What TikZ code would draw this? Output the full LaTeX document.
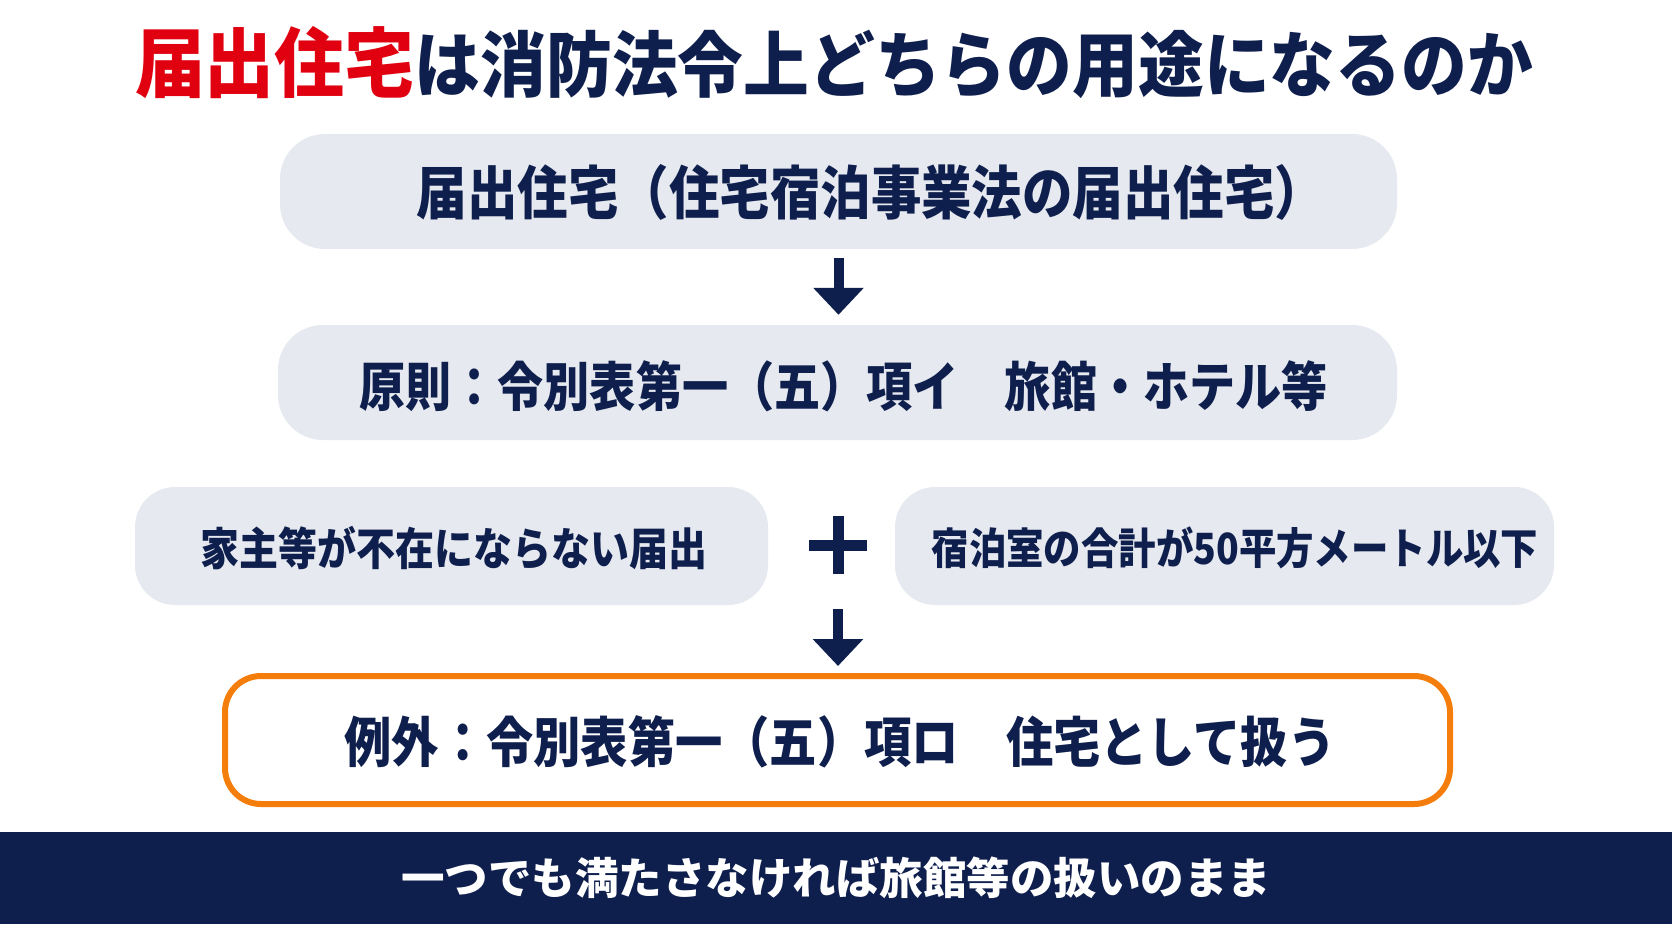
\documentclass[tikz,border=0pt]{standalone}
\usepackage{fontspec}
\usepackage{xcolor}
\usetikzlibrary{arrows.meta, positioning}
\newfontfamily\titlefont{Noto Sans CJK JP}[FakeStretch=0.92]
\newfontfamily\boxfont{Noto Sans CJK JP}[FakeStretch=0.87]
\newfontfamily\barfont{Noto Sans CJK JP}
\definecolor{navy}{HTML}{0F1F4D}
\definecolor{boxgray}{HTML}{E6E9EF}
\definecolor{alertred}{HTML}{E1000F}
\definecolor{exorange}{HTML}{F47D0C}
\tikzset{
  pill/.style={fill=boxgray, rounded corners=45pt, inner sep=0pt},
  boxtext/.style={text=navy, inner sep=0pt},
  flow/.style={navy, line width=10pt, -{Triangle[width=49pt,length=27pt]}},
}
\newcommand{\bsize}[1]{\boxfont\bfseries\fontsize{#1}{#1}\selectfont}

\begin{document}
\begin{tikzpicture}[x=1pt, y=-1pt]
\fill[white] (0,0) rectangle (1672,941);
\node[inner sep=0pt] (title) at (834,63) {\titlefont\bfseries{\color{alertred}\fontsize{76}{80}\selectfont 届出住宅}{\color{navy}\fontsize{71.5}{76}\selectfont は消防法令上どちらの用途になるのか}};

\node[pill, minimum width=1117pt, minimum height=115pt] (todoke) at (838.5,191.5) {};
\node[boxtext, font=\bsize{58}] (todoketxt) at (871,192) {届出住宅（住宅宿泊事業法の届出住宅）};

\node[pill, minimum width=1119pt, minimum height=115pt] (gensoku) at (837.5,382.5) {};
\node[boxtext, font=\bsize{53}] (gensokutxt) at (843.5,386) {原則：令別表第一（五）項イ　旅館・ホテル等};

\node[pill, rounded corners=40pt, minimum width=633pt, minimum height=118pt] (fuzai) at (451.5,546) {};
\node[boxtext, font=\bsize{44.8}] (fuzaitxt) at (454,548) {家主等が不在にならない届出};
\node[pill, rounded corners=40pt, minimum width=659pt, minimum height=118pt] (menseki) at (1224.5,546) {};
\node[boxtext, font=\bsize{43}] (mensekitxt) at (1235,548) {宿泊室の合計が50平方メートル以下};

\coordinate (plusc) at (838,545);
\draw[navy, line width=11pt] ([yshift=29pt]plusc) -- ([yshift=-29pt]plusc)
  ([xshift=-29pt]plusc) -- ([xshift=29pt]plusc);

\node[draw=exorange, line width=6pt, fill=white, rounded corners=36pt, minimum width=1225pt, minimum height=128pt] (reigai) at (837.5,740) {};
\node[boxtext, font=\bsize{54.3}] (reigaitxt) at (840,742) {例外：令別表第一（五）項ロ　住宅として扱う};

\draw[flow] ([yshift=-9pt]todoke.south) -- ([yshift=10pt]todoke.south |- gensoku.north);
\draw[flow] ([yshift=-4pt]plusc |- fuzai.south) -- ([yshift=7pt]plusc |- reigai.north);

\node[fill=navy, minimum width=1672pt, minimum height=92pt, inner sep=0pt, text=white, font=\barfont\bfseries\fontsize{43.5}{46}\selectfont] (bar) at (836,878) {一つでも満たさなければ旅館等の扱いのまま};
\end{tikzpicture}
\end{document}
